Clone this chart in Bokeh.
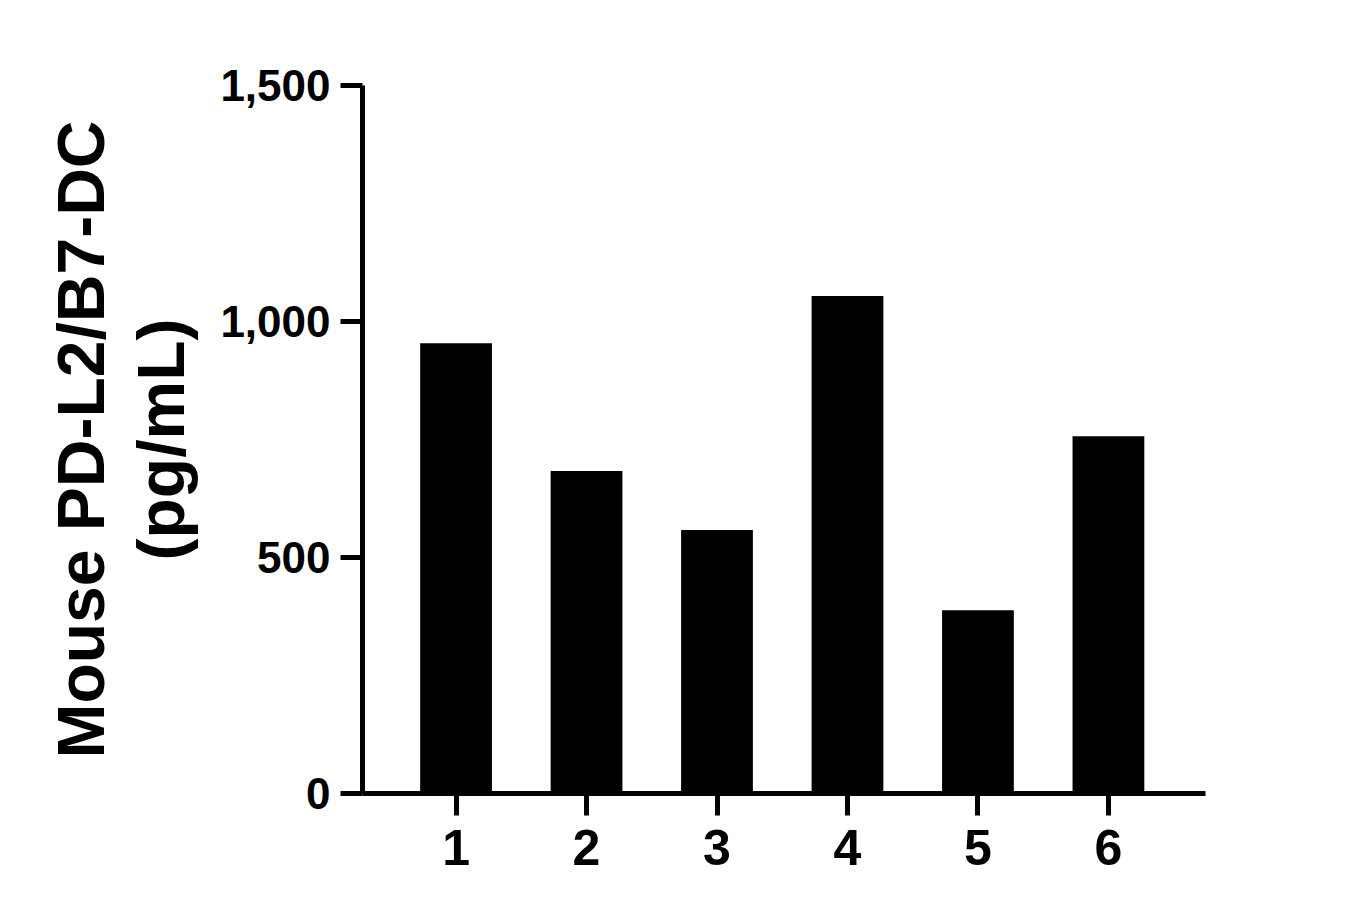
from bokeh.plotting import figure
from bokeh.models import FixedTicker, NumeralTickFormatter, Range1d
from bokeh.embed import file_html
from bokeh.resources import INLINE

# Data
categories = ["1", "2", "3", "4", "5", "6"]
positions = [1, 2, 3, 4, 5, 6]
values = [954, 683, 558, 1054, 388, 757]
y_ticks = [0, 500, 1000, 1500]
y_label = "Mouse PD-L2/B7-DC\n(pg/mL)"

FONT = "Liberation Sans"

p = figure(
    output_backend="svg",
    toolbar_location=None,
    frame_width=843,
    frame_height=708,
    min_border_left=362,
    min_border_right=133,
    min_border_top=85,
    min_border_bottom=109,
    x_range=Range1d(0.283, 6.744),
    y_range=Range1d(0, 1500),
    background_fill_color="white",
    border_fill_color="white",
    outline_line_color=None,
)

p.vbar(x=positions, top=values, width=0.55, bottom=0,
       fill_color="black", line_color=None)

p.xgrid.visible = False
p.ygrid.visible = False

# X axis
xa = p.xaxis[0]
xa.ticker = FixedTicker(ticks=positions)
xa.major_label_overrides = {pos: lab for pos, lab in zip(positions, categories)}
xa.axis_line_width = 5
xa.axis_line_color = "black"
xa.major_tick_line_width = 5
xa.major_tick_line_color = "black"
xa.major_tick_out = 22
xa.major_tick_in = 0
xa.minor_tick_line_color = None
xa.major_label_text_font = FONT
xa.major_label_text_font_style = "bold"
xa.major_label_text_font_size = "50px"
xa.major_label_text_color = "black"
xa.major_label_standoff = 14

# Y axis
ya = p.yaxis[0]
ya.ticker = FixedTicker(ticks=y_ticks)
ya.formatter = NumeralTickFormatter(format="0,0")
ya.axis_line_width = 5
ya.axis_line_color = "black"
ya.major_tick_line_width = 5
ya.major_tick_line_color = "black"
ya.major_tick_out = 22
ya.major_tick_in = 0
ya.minor_tick_line_color = None
ya.major_label_text_font = FONT
ya.major_label_text_font_style = "bold"
ya.major_label_text_font_size = "44px"
ya.major_label_text_color = "black"
ya.major_label_standoff = 10
ya.axis_label = y_label
ya.axis_label_text_font = FONT
ya.axis_label_text_font_style = "bold"
ya.axis_label_text_font_size = "66px"
ya.axis_label_text_line_height = 1.08
ya.axis_label_text_color = "black"
ya.axis_label_standoff = 19

open("out.html", "w").write(file_html(p, INLINE))
